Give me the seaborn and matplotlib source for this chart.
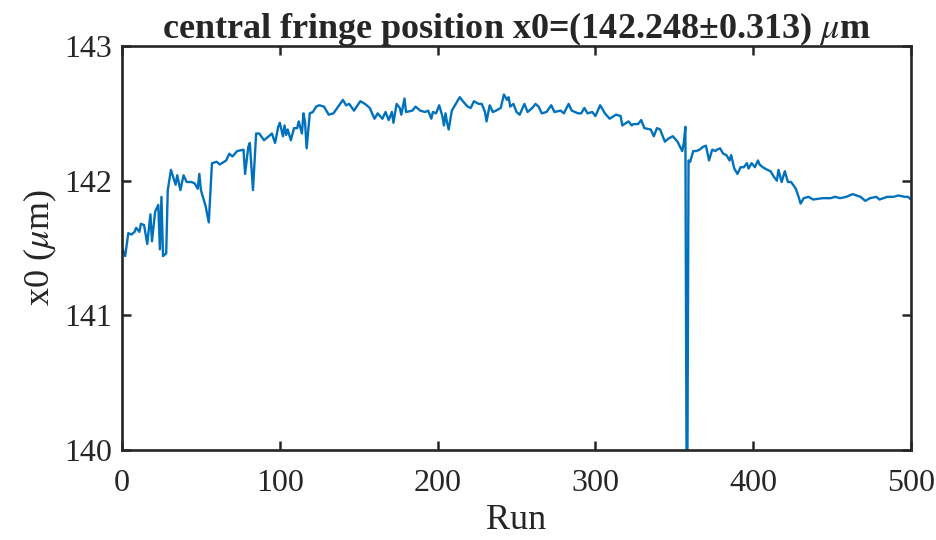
import matplotlib
matplotlib.use("Agg")
import matplotlib.pyplot as plt
import seaborn as sns
import pandas as pd

runs = [0, 1, 2, 4, 6, 8, 9, 11, 12, 14, 16, 18, 19, 21, 23, 24, 25, 26, 28, 29, 31, 34, 35, 37, 39, 41, 44, 46, 48, 49, 50, 53, 55, 57, 60, 62, 66, 68, 70, 73, 77, 78, 80, 81, 83, 85,
        87, 90, 93, 95, 97, 99, 100, 102, 103, 104, 105, 107, 109, 111, 112, 114, 115, 116, 117, 119, 121, 123, 125, 128, 131, 134, 137, 140, 142, 144, 147, 151, 154, 157, 160, 162, 165, 167, 169, 171, 172, 174, 176, 177, 179, 180,
        184, 186, 189, 192, 194, 196, 197, 199, 201, 203, 204, 205, 206, 207, 209, 211, 214, 216, 219, 221, 223, 226, 228, 230, 231, 233, 235, 237, 240, 242, 244, 245, 246, 248, 250, 252, 255, 257, 260, 262, 264, 266, 269, 272, 274, 278,
        280, 283, 285, 287, 289, 291, 293, 295, 298, 300, 303, 306, 309, 313, 316, 317, 321, 323, 324, 327, 329, 331, 335, 337, 339, 341, 344, 346, 349, 352, 355, 356, 357, 358, 359, 360, 362, 364, 366, 368, 370, 372,
        374, 376, 377, 379, 381, 383, 385, 386, 388, 390, 392, 394, 396, 397, 399, 401, 403, 404, 406, 409, 411, 413, 415, 416, 418, 420, 422, 424, 427, 429, 430, 432,
        435, 438, 444, 449, 452, 455, 459, 463, 468, 471, 474, 478, 480, 485, 489, 492, 496, 498, 500]

x0 = [141.50, 141.47, 141.44, 141.61, 141.60, 141.62, 141.65, 141.62, 141.68, 141.67, 141.53, 141.75, 141.55, 141.77, 141.82, 141.49, 141.88, 141.44, 141.46, 141.93, 142.08, 141.97, 142.04, 141.93, 142.04, 141.99, 141.99, 141.98, 141.94, 142.05, 141.93, 141.81, 141.69, 142.13, 142.14, 142.12, 142.15, 142.20, 142.18, 142.22, 142.23, 142.05, 142.25, 142.28, 141.93, 142.35,
      142.35, 142.30, 142.33, 142.35, 142.28, 142.40, 142.43, 142.33, 142.41, 142.34, 142.38, 142.30, 142.39, 142.39, 142.44, 142.35, 142.50, 142.43, 142.24, 142.50, 142.51, 142.55, 142.56, 142.55, 142.49, 142.50, 142.55, 142.60, 142.56, 142.57, 142.52, 142.59, 142.57, 142.54, 142.46, 142.50, 142.46, 142.51, 142.45, 142.51, 142.43, 142.57, 142.54, 142.49, 142.61, 142.51,
      142.52, 142.55, 142.52, 142.51, 142.52, 142.46, 142.51, 142.50, 142.56, 142.48, 142.41, 142.50, 142.43, 142.38, 142.52, 142.56, 142.62, 142.59, 142.55, 142.54, 142.59, 142.57, 142.57, 142.51, 142.44, 142.56, 142.51, 142.52, 142.54, 142.64, 142.60, 142.62, 142.55, 142.57, 142.51, 142.49, 142.57, 142.51, 142.54, 142.57, 142.55, 142.50, 142.51, 142.56, 142.51, 142.52,
      142.50, 142.57, 142.52, 142.51, 142.50, 142.50, 142.54, 142.50, 142.51, 142.48, 142.56, 142.50, 142.46, 142.49, 142.48, 142.41, 142.44, 142.41, 142.42, 142.42, 142.45, 142.39, 142.38, 142.33, 142.39, 142.38, 142.29, 142.31, 142.33, 142.29, 142.22, 142.28, 142.40, 139.00, 142.15, 142.14, 142.22, 142.22, 142.23, 142.25, 142.26, 142.15,
      142.23, 142.22, 142.23, 142.24, 142.20, 142.19, 142.15, 142.19, 142.09, 142.05, 142.10, 142.10, 142.13, 142.09, 142.13, 142.10, 142.15, 142.12, 142.10, 142.08, 142.07, 142.03, 142.00, 142.08, 141.99, 142.07, 141.99, 141.99, 141.94, 141.87, 141.83, 141.87,
      141.88, 141.86, 141.87, 141.87, 141.88, 141.87, 141.88, 141.90, 141.88, 141.85, 141.87, 141.88, 141.86, 141.88, 141.88, 141.89, 141.88, 141.88, 141.86]

x_ticks = [0, 100, 200, 300, 400, 500]
y_ticks = [140, 141, 142, 143]
title = "central fringe position x0=(142.248\u00b10.313) $\\mu$m"
xlabel = "Run"
ylabel = "x0 ($\\mu$m)"

df = pd.DataFrame({"Run": runs, "x0": x0})

sns.set_style("ticks")
plt.rcParams["font.family"] = ["Liberation Serif", "DejaVu Serif"]
plt.rcParams["mathtext.fontset"] = "stix"

fig = plt.figure(figsize=(9.37, 5.40), dpi=100)
ax = fig.add_axes([0.1302, 0.1667, 0.8421, 0.7481])
sns.lineplot(data=df, x="Run", y="x0", ax=ax, color="#0072BD", linewidth=1.7, clip_on=True)

ax.set_xlim(0, 500)
ax.set_ylim(140, 143)
ax.set_xticks(x_ticks)
ax.set_yticks(y_ticks)
ax.tick_params(direction="in", length=6.5, width=1.8, top=True, right=True,
               labelsize=23, colors="#262626", pad=7)
ax.tick_params(axis="x", pad=14)
for s in ax.spines.values():
    s.set_visible(True)
    s.set_linewidth(1.9)
    s.set_color("#262626")
ax.set_xlabel(xlabel, fontsize=26, color="#262626", labelpad=4)
ax.set_ylabel(ylabel, fontsize=26, color="#262626", labelpad=4)
ax.set_title(title, fontsize=26, fontweight="bold", pad=6)

fig.savefig("out.png", dpi=100)
